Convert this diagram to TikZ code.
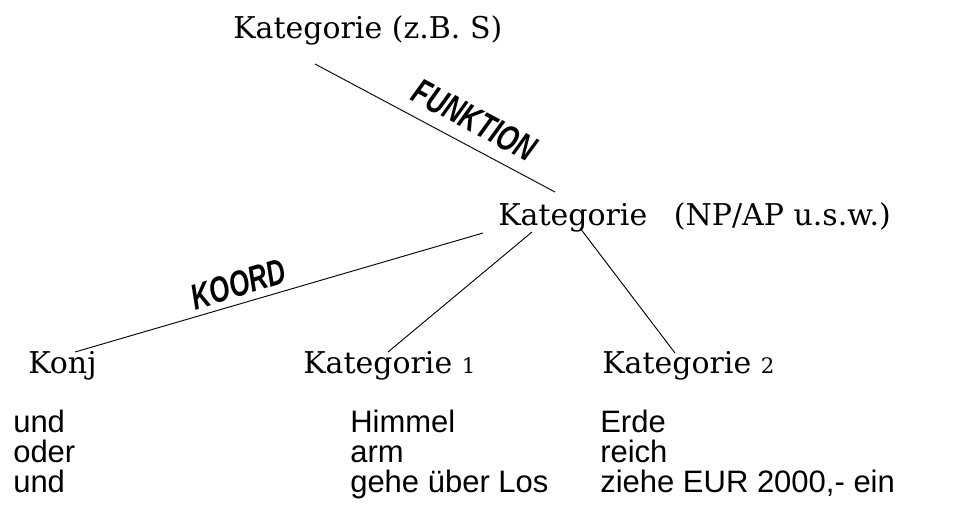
\documentclass[tikz,border=0pt]{standalone}
\usepackage{fontspec}
\setmainfont{DejaVu Serif}
\newfontfamily\arialf{Liberation Sans}
\begin{document}
\begin{tikzpicture}[x=0.75pt,y=-0.75pt,
  cat/.style={font=\fontsize{22.5pt}{27pt}\selectfont, anchor=base west, inner sep=0pt},
  word/.style={font=\arialf\fontsize{23.25pt}{28pt}\selectfont, anchor=base west, inner sep=0pt},
  stamp/.style={font=\arialf\bfseries\itshape\fontsize{27pt}{30pt}\selectfont, anchor=base, inner sep=0pt, xscale=0.72},
  edge/.style={line width=0.7pt}]
\useasboundingbox (0,0) rectangle (967,529);
% category nodes
\node[cat] (top) at (233,38) {Kategorie (z.B. S)};
\node[cat] (mid) at (498,225) {Kategorie\hspace{20pt}(NP/AP u.s.w.)};
\node[cat] (konj) at (28,373) {Konj};
\node[cat] (k1) at (303,373) {Kategorie {\fontsize{16pt}{18pt}\selectfont 1}};
\node[cat] (k2) at (602,373) {Kategorie {\fontsize{16pt}{18pt}\selectfont 2}};
% edge end points
\coordinate (fa) at (315,64);  \coordinate (fb) at (555,192);
\coordinate (ka) at (483,233); \coordinate (kb) at (75,352);
\coordinate (oa) at (532,232); \coordinate (ob) at (388,352);
\coordinate (ta) at (580,228); \coordinate (tb) at (675,353);
\draw[edge] (fa) -- (fb);
\draw[edge] (ka) -- (kb);
\draw[edge] (oa) -- (ob);
\draw[edge] (ta) -- (tb);
% stamped labels
\node[rotate=-28, stamp] (funk) at (469,131) {FUNKTION};
\node[rotate=17, stamp] (koord) at (242,296) {KOORD};
% example words
\node[word] (w11) at (13,432) {und};
\node[word] (w12) at (13,462) {oder};
\node[word] (w13) at (13,492) {und};
\node[word] (w21) at (350,432) {Himmel};
\node[word] (w22) at (350,462) {arm};
\node[word] (w23) at (350,492) {gehe über Los};
\node[word] (w31) at (600,432) {Erde};
\node[word] (w32) at (600,462) {reich};
\node[word] (w33) at (600,492) {ziehe EUR 2000,- ein};
\end{tikzpicture}
\end{document}
